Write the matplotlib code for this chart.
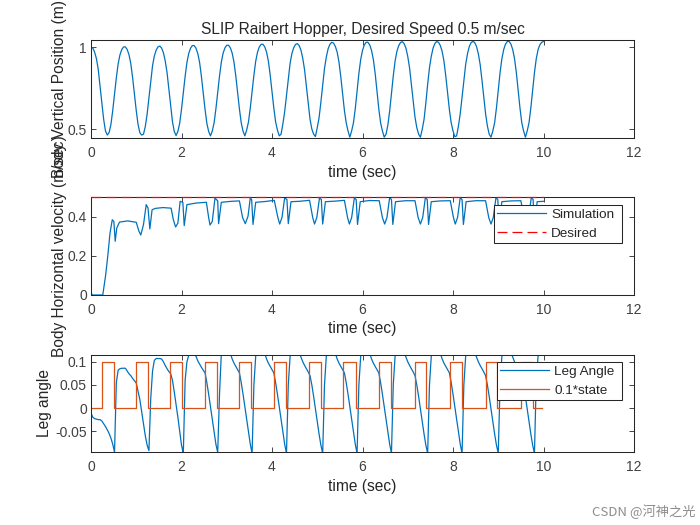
import numpy as np
import matplotlib
matplotlib.use('Agg')
import matplotlib.pyplot as plt

plt.rcParams['font.family'] = ['Liberation Sans', 'DejaVu Sans']

# BODY VERTICAL POSITION (sampled every 0.04 s)
z = [1.0, .995, .97, .93, .865, .76, .66, .56, .49, .465,
     .48, .529, .614, .714, .814, .899, .954, .986, 1.002, 1.002, .986, .954, .899, .814, .714, .614, .529, .479, .465,
     .47, .517, .592, .692, .797, .887, .947, .982, 1.002, 1.007, .995, .967, .917, .847, .747, .642, .547, .487, .462,
     .487, .537, .622, .722, .822, .907, .962, .994, 1.01, 1.01, .994, .962, .907, .822, .722, .622, .537, .487, .46,
     .489, .539, .624, .724, .824, .909, .964, .996, 1.012, 1.012, .996, .964, .909, .824, .724, .624, .539, .489, .46,
     .495, .545, .63, .73, .83, .915, .97, 1.002, 1.018, 1.018, 1.002, .97, .915, .83, .73, .63, .545, .495, .46,
     .47, .532, .607, .707, .812, .902, .962, .997, 1.017, 1.022, 1.01, .982, .932, .862, .762, .657, .562, .502, .47,
     .456, .51, .57, .665, .77, .87, .94, .99, 1.018, 1.03, 1.025, 1.005, .97, .91, .82, .715, .615, .54, .49, .452,
     .49, .54, .625, .735, .84, .925, .98, 1.014, 1.03, 1.03, 1.014, .98, .925, .84, .735, .625, .54, .49, .452,
     .47, .525, .61, .715, .825, .915, .975, 1.009, 1.029, 1.034, 1.022, .994, .944, .874, .774, .669, .574, .51, .47, .452,
     .50, .56, .66, .775, .875, .945, .995, 1.023, 1.035, 1.03, 1.01, .975, .915, .825, .72, .62, .54, .49, .455,
     .46, .52, .595, .695, .80, .895, .96, 1.004, 1.028, 1.036, 1.028, 1.004, .96, .895, .80, .695, .595, .52, .47, .452,
     .49, .54, .63, .74, .845, .93, .985, 1.019, 1.035, 1.035, 1.019, .985, .93, .845, .74, .63, .54, .49, .452,
     .49, .54, .63, .74, .845, .93, .985, 1.015, 1.03, 1.035]

# BODY HORIZONTAL VELOCITY
t_v = [0, .03, .26, .32, .37, .42, .47, .505, .535, .57, .63, .81, 1.0, 1.06, 1.10,
       1.16, 1.22, 1.26, 1.30, 1.35, 1.425, 1.59, 1.77, 1.82, 1.87, 1.92, 1.97, 2.03, 2.06,
       2.12, 2.32, 2.55, 2.60, 2.63, 2.68, 2.74, 2.80, 2.82,
       2.88, 3.10, 3.28, 3.35, 3.41, 3.47, 3.52, 3.55, 3.58,
       3.64, 3.85, 4.05, 4.13, 4.17, 4.22, 4.28, 4.33, 4.36,
       4.42, 4.60, 4.83, 4.90, 4.94, 4.99, 5.05, 5.09, 5.12,
       5.18, 5.40, 5.60, 5.67, 5.71, 5.76, 5.82, 5.86, 5.89,
       5.95, 6.15, 6.37, 6.44, 6.49, 6.54, 6.60, 6.64, 6.67,
       6.73, 6.95, 7.16, 7.23, 7.28, 7.33, 7.39, 7.43, 7.46,
       7.52, 7.72, 7.94, 8.01, 8.05, 8.10, 8.16, 8.20, 8.23,
       8.29, 8.50, 8.72, 8.79, 8.84, 8.89, 8.95, 8.99, 9.02,
       9.08, 9.28, 9.50, 9.57, 9.62, 9.67, 9.73, 9.77, 9.80,
       9.86, 10.0]
v = [.012, .0, .0, .095, .197, .316, .384, .375, .274, .342, .372, .378, .371, .325, .306,
     .359, .461, .444, .337, .435, .442, .446, .443, .384, .347, .367, .478, .473, .354,
     .461, .469, .473, .395, .357, .375, .495, .48, .364,
     .473, .478, .48, .395, .364, .402, .495, .487, .36,
     .473, .477, .483, .395, .362, .395, .495, .487, .364,
     .476, .478, .483, .395, .362, .395, .495, .487, .362,
     .476, .479, .483, .395, .362, .395, .495, .487, .36,
     .476, .482, .481, .395, .362, .395, .497, .487, .36,
     .476, .481, .481, .395, .362, .395, .497, .487, .36,
     .476, .48, .481, .395, .362, .395, .497, .487, .36,
     .476, .481, .481, .395, .362, .395, .497, .487, .36,
     .476, .48, .481, .395, .362, .395, .497, .487, .36,
     .476, .478]
t_des = [0, 10]
v_des = [.5, .5]

# LEG ANGLE (sampled every 0.04 s)
leg = [-.011, -.02, -.023, -.024, -.025, -.025, -.028, -.034, -.04, -.047, -.055, -.065, -.078, -.095,
       .055, .082, .085, .086, .086, .086, .08, .074, .07, .064, .059, .054, .036, .018, -.008, -.035, -.06, -.08, -.092,
       .02, .08, .103, .107, .107, .107, .106, .1, .092, .085, .079, .0745, .06, .035, .008, -.02, -.05, -.08, -.098,
       .06, .1, .114, .116, .116, .116, .112, .102, .095, .088, .082, .076, .055, .03, .003, -.024, -.05, -.078, -.096,
       .03, .118, .126, .13, .13, .128, .118, .106, .097, .09, .083, .076, .055, .03, .003, -.024, -.052, -.078, -.098,
       .05, .112, .127, .13, .13, .128, .118, .106, .097, .09, .083, .076, .055, .03, .003, -.024, -.052, -.078, -.098,
       .05, .112, .127, .13, .13, .128, .12, .11, .1, .092, .085, .078, .07, .05, .025, -.002, -.03, -.056, -.08, -.098,
       .05, .112, .127, .13, .13, .128, .118, .106, .097, .09, .083, .076, .055, .03, .003, -.024, -.052, -.078, -.098,
       .05, .112, .127, .13, .13, .128, .118, .106, .097, .09, .083, .076, .055, .03, .003, -.024, -.052, -.078, -.098,
       .05, .112, .127, .13, .13, .128, .12, .11, .1, .092, .085, .078, .07, .05, .025, -.002, -.03, -.056, -.08, -.098,
       .05, .112, .127, .13, .13, .128, .118, .106, .097, .09, .083, .076, .055, .03, .003, -.024, -.052, -.078, -.098,
       .05, .112, .127, .13, .13, .128, .12, .11, .1, .092, .085, .078, .07, .05, .025, -.002, -.03, -.056, -.08, -.098,
       .05, .112, .127, .13, .13, .128, .12, .11, .1, .092, .085, .078, .07, .05, .025, -.002, -.03, -.056, -.08, -.098,
       .06, .112, .125, .13, .13]

# STATE
t_state = [0, .24, .51, 1.0, 1.256, 1.75, 2.0, 2.52, 2.78, 3.27, 3.53, 4.05, 4.31, 4.81, 5.08,
           5.58, 5.85, 6.36, 6.63, 7.16, 7.41, 7.93, 8.19, 8.72, 8.97, 9.50, 9.77, 9.97]
state = [0, .1, 0, .1, 0, .1, 0, .1, 0, .1, 0, .1, 0, .1, 0,
         .1, 0, .1, 0, .1, 0, .1, 0, .1, 0, .1, 0, 0]

C_BLUE = '#0072BD'
C_ORANGE = '#D95319'
C_DARK = '#262626'
C_TICK = '#404040'
DT = 0.04

fig = plt.figure(figsize=(7, 5.25), dpi=100)


def make_ax(left, top, right, bottom):
    ax = fig.add_axes([left / 700, 1 - bottom / 525, (right - left) / 700, (bottom - top) / 525])
    ax.set_xlim(0, 12)
    ax.set_xticks(range(0, 13, 2))
    ax.tick_params(direction='in', top=True, right=True, length=3.8, width=0.6,
                   labelsize=10, color=C_DARK, labelcolor=C_TICK, pad=3)
    ax.tick_params(axis='x', pad=6)
    for s in ax.spines.values():
        s.set_linewidth(0.75)
        s.set_color(C_DARK)
    ax.set_xlabel('time (sec)', fontsize=11.2, color=C_DARK, labelpad=3)
    return ax


# SUBPLOT 1
ax1 = make_ax(91, 40, 634, 138)
ax1.plot(np.arange(len(z)) * DT, z, color=C_BLUE, lw=0.9)
ax1.set_ylim(0.447, 1.044)
ax1.set_yticks([0.5, 1])
ax1.set_yticklabels(['0.5', '1'])
ax1.set_ylabel('Body Vertical Position (m)', fontsize=11.2, color=C_DARK)
ax1.yaxis.set_label_coords(-24 / 543, 0.5)
ax1.set_title('SLIP Raibert Hopper, Desired Speed 0.5 m/sec', fontsize=11.2, color=C_DARK, pad=4)

# SUBPLOT 2
ax2 = make_ax(91, 197, 634, 295)
ax2.plot(t_v, v, color=C_BLUE, lw=0.9, label='Simulation')
ax2.plot(t_des, v_des, color='red', lw=0.9, ls=(0, (8, 4)), label='Desired', clip_on=False, zorder=3)
ax2.set_ylim(0, 0.5)
ax2.set_yticks([0, 0.2, 0.4])
ax2.set_yticklabels(['0', '0.2', '0.4'])
ax2.set_ylabel('Body Horizontal velocity (m/sec)', fontsize=11.2, color=C_DARK)
ax2.yaxis.set_label_coords(-24 / 543, 0.5)

# SUBPLOT 3
ax3 = make_ax(91, 354.5, 634, 452)
ax3.plot(np.arange(len(leg)) * DT, leg, color=C_BLUE, lw=0.9, label='Leg Angle')
ax3.step(t_state, state, where='post', color=C_ORANGE, lw=0.9, label='0.1*state')
ax3.set_ylim(-0.095, 0.1157)
ax3.set_yticks([-0.05, 0, 0.05, 0.1])
ax3.set_yticklabels(['-0.05', '0', '0.05', '0.1'])
ax3.set_ylabel('Leg angle', fontsize=11.2, color=C_DARK)
ax3.yaxis.set_label_coords(-39 / 543, 0.5)

# LEGENDS
for ax, box in ((ax2, (494, 205, 622, 245)), (ax3, (497, 362, 622, 402))):
    leg_box = ax.legend(loc='upper left', fontsize=9.7, fancybox=False, framealpha=1,
                        edgecolor=C_DARK, labelcolor='#262626', borderpad=0.25,
                        labelspacing=0.48, handlelength=3.6, handletextpad=0.4, borderaxespad=0,
                        bbox_to_anchor=(box[0] / 700, 1 - box[3] / 525, (box[2] - box[0]) / 700, (box[3] - box[1]) / 525),
                        bbox_transform=fig.transFigure, mode='expand')
    leg_box.get_frame().set_linewidth(0.75)

# WATERMARK
fig.text(695 / 700, 1 - 512 / 525, 'CSDN @河神之光', ha='right', va='center', fontsize=9.5,
         color='#8c8c8c', family=['Noto Sans CJK SC', 'DejaVu Sans'])

fig.savefig('out.png', dpi=100, facecolor='white')
